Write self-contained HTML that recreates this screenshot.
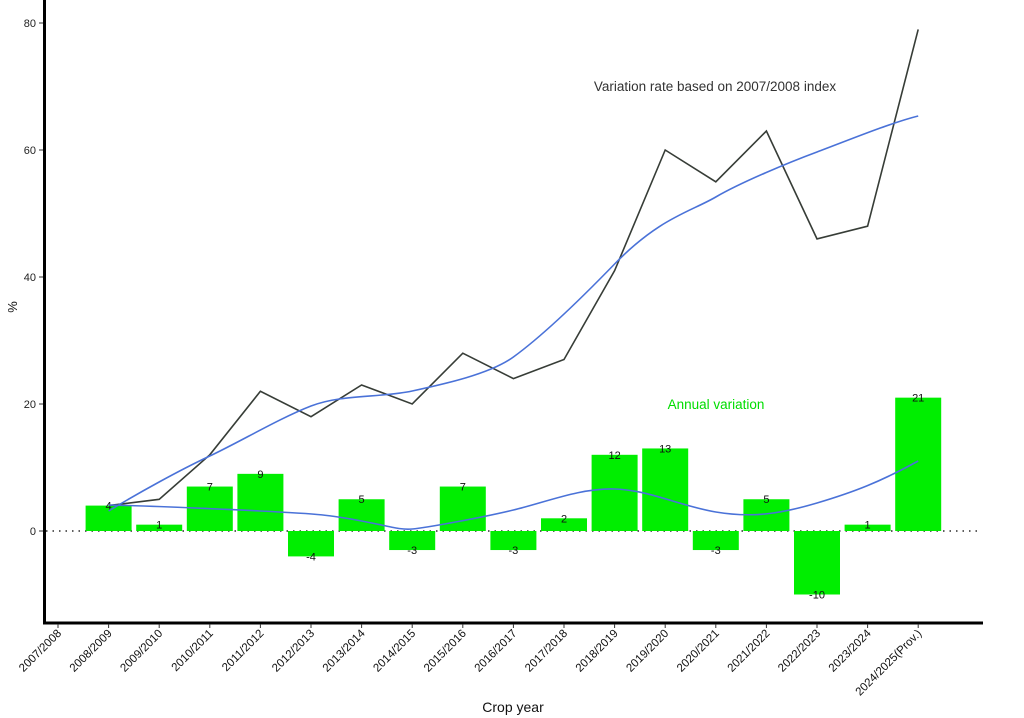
<!DOCTYPE html>
<html><head><meta charset="utf-8"><style>html,body{margin:0;padding:0;background:#fff}svg{display:block}text{font-family:"Liberation Sans",Arial,sans-serif}</style></head>
<body>
<svg width="1024" height="718" viewBox="0 0 1024 718" xmlns="http://www.w3.org/2000/svg">
<rect width="1024" height="718" fill="#fff"/>
<line x1="46" y1="531" x2="982" y2="531" stroke="#000" stroke-width="1.3" stroke-dasharray="1.5,5"/>
<g fill="#00ee00">
<rect x="85.6" y="505.6" width="46" height="25.4"/>
<rect x="136.2" y="524.65" width="46" height="6.35"/>
<rect x="186.8" y="486.55" width="46" height="44.45"/>
<rect x="237.4" y="473.85" width="46" height="57.15"/>
<rect x="288" y="531" width="46" height="25.4"/>
<rect x="338.6" y="499.25" width="46" height="31.75"/>
<rect x="389.2" y="531" width="46" height="19.05"/>
<rect x="439.8" y="486.55" width="46" height="44.45"/>
<rect x="490.4" y="531" width="46" height="19.05"/>
<rect x="541" y="518.3" width="46" height="12.7"/>
<rect x="591.6" y="454.8" width="46" height="76.2"/>
<rect x="642.2" y="448.45" width="46" height="82.55"/>
<rect x="692.8" y="531" width="46" height="19.05"/>
<rect x="743.4" y="499.25" width="46" height="31.75"/>
<rect x="794" y="531" width="46" height="63.5"/>
<rect x="844.6" y="524.65" width="46" height="6.35"/>
<rect x="895.2" y="397.65" width="46" height="133.35"/>
</g>
<g font-size="11" fill="#111" text-anchor="middle">
<text x="108.6" y="509.6">4</text><text x="159.2" y="528.6">1</text><text x="209.8" y="490.5">7</text><text x="260.4" y="477.8">9</text>
<text x="311" y="560.4">-4</text><text x="361.6" y="503.2">5</text><text x="412.2" y="554">-3</text><text x="462.8" y="490.5">7</text>
<text x="513.4" y="554">-3</text><text x="564" y="522.3">2</text><text x="614.6" y="458.8">12</text><text x="665.2" y="452.4">13</text>
<text x="715.8" y="554">-3</text><text x="766.4" y="503.2">5</text><text x="817" y="598.5">-10</text><text x="867.6" y="528.6">1</text><text x="918.2" y="401.6">21</text>
</g>
<polyline fill="none" stroke="#373d37" stroke-width="1.6" points="108.6,505.6 159.2,499.3 209.8,454.8 260.4,391.3 311,416.7 361.6,385 412.2,404 462.8,353.2 513.4,378.6 564,359.5 614.6,270.7 665.2,150 715.8,181.8 766.4,131 817,238.9 867.6,226.2 918.2,29.4"/>
<path fill="none" stroke="#4a72d8" stroke-width="1.6" d="M108.6,511 C140,492 180,470 209.8,456 S280,418 311,406 S380,398 412.2,391 S490,374 513.4,357 S570,310 614.6,264 S690,212 715.8,197 S790,162 817,152 S890,123 918.2,116"/>
<path fill="none" stroke="#4a72d8" stroke-width="1.6" d="M108.6,505 C150,506 200,508 260.4,511 S330,515 361.6,521 S400,530 412.2,529 S480,518 513.4,510 S580,488 614.6,489 S680,506 715.8,512 S780,514 817,503 S880,482 918.2,461"/>
<text x="715" y="91" font-size="13.5" fill="#333" text-anchor="middle">Variation rate based on 2007/2008 index</text>
<text x="716" y="409" font-size="13.5" fill="#00dd00" text-anchor="middle">Annual variation</text>
<line x1="44.5" y1="0" x2="44.5" y2="624" stroke="#000" stroke-width="3"/>
<line x1="43" y1="623" x2="983" y2="623" stroke="#000" stroke-width="3"/>
<g stroke="#333" stroke-width="1"><line x1="39" y1="23" x2="43" y2="23"/><line x1="39" y1="150" x2="43" y2="150"/><line x1="39" y1="277" x2="43" y2="277"/><line x1="39" y1="404" x2="43" y2="404"/><line x1="39" y1="531" x2="43" y2="531"/></g>
<g font-size="11" fill="#222" text-anchor="end">
<text x="36" y="27">80</text><text x="36" y="154">60</text><text x="36" y="281">40</text><text x="36" y="408">20</text><text x="36" y="535">0</text>
</g>
<text transform="translate(17,307) rotate(-90)" font-size="13" fill="#111" text-anchor="middle">%</text>
<g stroke="#333" stroke-width="1">
<line x1="58" y1="624" x2="58" y2="628"/><line x1="108.6" y1="624" x2="108.6" y2="628"/><line x1="159.2" y1="624" x2="159.2" y2="628"/><line x1="209.8" y1="624" x2="209.8" y2="628"/><line x1="260.4" y1="624" x2="260.4" y2="628"/><line x1="311" y1="624" x2="311" y2="628"/><line x1="361.6" y1="624" x2="361.6" y2="628"/><line x1="412.2" y1="624" x2="412.2" y2="628"/><line x1="462.8" y1="624" x2="462.8" y2="628"/><line x1="513.4" y1="624" x2="513.4" y2="628"/><line x1="564" y1="624" x2="564" y2="628"/><line x1="614.6" y1="624" x2="614.6" y2="628"/><line x1="665.2" y1="624" x2="665.2" y2="628"/><line x1="715.8" y1="624" x2="715.8" y2="628"/><line x1="766.4" y1="624" x2="766.4" y2="628"/><line x1="817" y1="624" x2="817" y2="628"/><line x1="867.6" y1="624" x2="867.6" y2="628"/><line x1="918.2" y1="624" x2="918.2" y2="628"/>
</g>
<g font-size="11.5" fill="#111" text-anchor="end">
<text transform="translate(62,634) rotate(-45)">2007/2008</text>
<text transform="translate(112.6,634) rotate(-45)">2008/2009</text>
<text transform="translate(163.2,634) rotate(-45)">2009/2010</text>
<text transform="translate(213.8,634) rotate(-45)">2010/2011</text>
<text transform="translate(264.4,634) rotate(-45)">2011/2012</text>
<text transform="translate(315,634) rotate(-45)">2012/2013</text>
<text transform="translate(365.6,634) rotate(-45)">2013/2014</text>
<text transform="translate(416.2,634) rotate(-45)">2014/2015</text>
<text transform="translate(466.8,634) rotate(-45)">2015/2016</text>
<text transform="translate(517.4,634) rotate(-45)">2016/2017</text>
<text transform="translate(568,634) rotate(-45)">2017/2018</text>
<text transform="translate(618.6,634) rotate(-45)">2018/2019</text>
<text transform="translate(669.2,634) rotate(-45)">2019/2020</text>
<text transform="translate(719.8,634) rotate(-45)">2020/2021</text>
<text transform="translate(770.4,634) rotate(-45)">2021/2022</text>
<text transform="translate(821,634) rotate(-45)">2022/2023</text>
<text transform="translate(871.6,634) rotate(-45)">2023/2024</text>
<text transform="translate(922.2,634) rotate(-45)">2024/2025(Prov.)</text>
</g>
<text x="513" y="712" font-size="14" fill="#111" text-anchor="middle">Crop year</text>
</svg>
</body></html>
